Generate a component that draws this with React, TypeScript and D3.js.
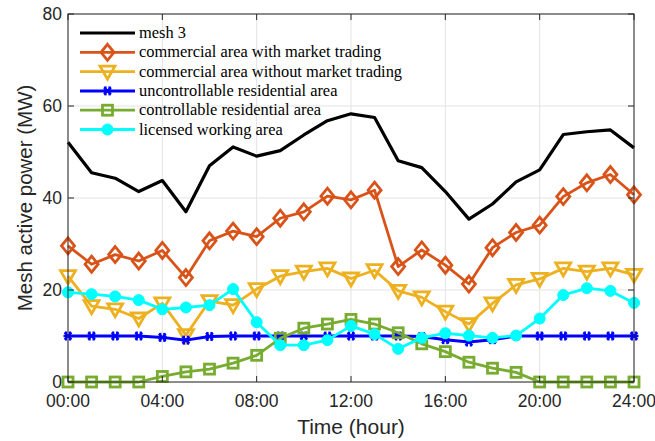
import React from "react";
import * as d3 from "d3";

const hours = d3.range(0, 25);
const mesh3 = [52.1, 45.5, 44.3, 41.4, 43.8, 37.0, 47.0, 51.1, 49.1, 50.3, 53.7, 56.8, 58.3, 57.5, 48.1, 46.6, 41.4, 35.4, 38.7, 43.5, 46.1, 53.8, 54.4, 54.8, 50.9];
const withMarket = [29.6, 25.6, 27.7, 26.3, 28.6, 22.7, 30.7, 32.8, 31.6, 35.6, 37.0, 40.4, 39.6, 41.7, 25.1, 28.7, 25.4, 21.3, 29.2, 32.5, 34.1, 40.3, 43.3, 45.1, 40.7];
const withoutMarket = [23.0, 16.5, 15.8, 13.8, 17.1, 10.2, 17.6, 16.7, 20.2, 23.0, 24.0, 24.7, 22.5, 24.3, 19.8, 18.4, 15.3, 12.6, 17.1, 21.1, 22.4, 24.7, 24.0, 24.7, 23.3];
const uncontrollable = [10, 10, 10, 10, 9.7, 9.1, 9.9, 10, 10, 10, 10, 10, 10, 10, 10, 9.9, 9.2, 8.7, 9.2, 10, 10, 10, 10, 10, 10];
const controllable = [0, 0, 0, 0, 1.2, 2.2, 2.8, 4.1, 5.8, 9.5, 11.7, 12.6, 13.6, 12.6, 10.7, 8.3, 6.6, 4.3, 3.0, 2.1, 0, 0, 0, 0, 0];
const licensed = [19.5, 19.1, 18.6, 17.8, 15.8, 16.2, 16.7, 20.2, 13.0, 8.0, 8.0, 9.1, 12.2, 10.4, 7.2, 9.6, 10.6, 10.1, 9.6, 10.1, 13.8, 18.9, 20.4, 19.8, 17.2];

const seriesNames = ["mesh 3", "commercial area with market trading", "commercial area without market trading", "uncontrollable residential area", "controllable residential area", "licensed working area"];
const xTicks = [0, 4, 8, 12, 16, 20, 24];
const xTickLabels = ["00:00", "04:00", "08:00", "12:00", "16:00", "20:00", "24:00"];
const yTicks = [0, 20, 40, 60, 80];

type Marker = "none" | "diamond" | "triangle" | "star" | "square" | "circle";
const series: { name: string; values: number[]; color: string; marker: Marker; width: number }[] = [
  { name: seriesNames[0], values: mesh3, color: "#000000", marker: "none", width: 3.2 },
  { name: seriesNames[1], values: withMarket, color: "#D95319", marker: "diamond", width: 2.8 },
  { name: seriesNames[2], values: withoutMarket, color: "#EDB120", marker: "triangle", width: 2.8 },
  { name: seriesNames[3], values: uncontrollable, color: "#0000FF", marker: "star", width: 3 },
  { name: seriesNames[4], values: controllable, color: "#77AC30", marker: "square", width: 2.8 },
  { name: seriesNames[5], values: licensed, color: "#00FFFF", marker: "circle", width: 2.8 },
];

const W = 655, H = 441;
const m = { left: 68, top: 14, right: 634, bottom: 382 };

function MarkerShape({ type, color, x, y }: { type: Marker; color: string; x: number; y: number }) {
  const sw = 2.8;
  switch (type) {
    case "diamond":
      return <path d={`M${x},${y - 8} L${x + 6.5},${y} L${x},${y + 8} L${x - 6.5},${y} Z`} fill="none" stroke={color} strokeWidth={sw} />;
    case "triangle":
      return <path d={`M${x - 7.5},${y - 5.5} L${x + 7.5},${y - 5.5} L${x},${y + 7.5} Z`} fill="none" stroke={color} strokeWidth={sw} />;
    case "square":
      return <rect x={x - 5} y={y - 5} width={10} height={10} fill="none" stroke={color} strokeWidth={sw} />;
    case "circle":
      return <circle cx={x} cy={y} r={5.5} fill={color} stroke={color} strokeWidth={1} />;
    case "star":
      return (
        <g stroke={color} strokeWidth={2.2}>
          <line x1={x - 4.5} y1={y} x2={x + 4.5} y2={y} />
          <line x1={x - 2} y1={y - 4.5} x2={x - 2} y2={y + 4.5} />
          <line x1={x + 2} y1={y - 4.5} x2={x + 2} y2={y + 4.5} />
          <line x1={x - 3.5} y1={y - 3.5} x2={x + 3.5} y2={y + 3.5} />
          <line x1={x - 3.5} y1={y + 3.5} x2={x + 3.5} y2={y - 3.5} />
        </g>
      );
    default:
      return null;
  }
}

export default function App() {
  const x = d3.scaleLinear().domain([0, 24]).range([m.left, m.right]);
  const y = d3.scaleLinear().domain([0, 80]).range([m.bottom, m.top]);
  const line = d3.line<number>().x((_, i) => x(hours[i])).y((d) => y(d));
  const tickFont = "'Liberation Sans', Arial, sans-serif";
  const legendX0 = 80, legendX1 = 135, legendY0 = 33, legendDy = 19.3;

  return (
    <svg width={W} height={H} style={{ position: "absolute", left: 0, top: 0 }}>
      <rect x={0} y={0} width={W} height={H} fill="#fff" />
      {xTicks.map((t) => (
        <line key={"gx" + t} x1={x(t)} x2={x(t)} y1={m.top} y2={m.bottom} stroke="#e3e3e3" strokeWidth={1} />
      ))}
      {yTicks.map((t) => (
        <line key={"gy" + t} x1={m.left} x2={m.right} y1={y(t)} y2={y(t)} stroke="#e3e3e3" strokeWidth={1} />
      ))}
      {series.map((s) => (
        <g key={s.name}>
          <path d={line(s.values) || ""} fill="none" stroke={s.color} strokeWidth={s.width} strokeLinejoin="round" />
          {s.values.map((v, i) => (
            <MarkerShape key={i} type={s.marker} color={s.color} x={x(hours[i])} y={y(v)} />
          ))}
        </g>
      ))}
      <rect x={m.left} y={m.top} width={m.right - m.left} height={m.bottom - m.top} fill="none" stroke="#262626" strokeWidth={1} />
      {xTicks.map((t) => (
        <g key={"tx" + t}>
          <line x1={x(t)} x2={x(t)} y1={m.bottom} y2={m.bottom - 6} stroke="#262626" />
          <line x1={x(t)} x2={x(t)} y1={m.top} y2={m.top + 6} stroke="#262626" />
        </g>
      ))}
      {yTicks.map((t) => (
        <g key={"ty" + t}>
          <line x1={m.left} x2={m.left + 6} y1={y(t)} y2={y(t)} stroke="#262626" />
          <line x1={m.right} x2={m.right - 6} y1={y(t)} y2={y(t)} stroke="#262626" />
        </g>
      ))}
      {xTicks.map((t, i) => (
        <text key={"lx" + t} x={x(t)} y={m.bottom + 25} textAnchor="middle" fontFamily={tickFont} fontSize={17.5} fill="#262626">
          {xTickLabels[i]}
        </text>
      ))}
      {yTicks.map((t) => (
        <text key={"ly" + t} x={m.left - 6} y={y(t) + 6} textAnchor="end" fontFamily={tickFont} fontSize={17.5} fill="#262626">
          {t}
        </text>
      ))}
      <text x={(m.left + m.right) / 2} y={434} textAnchor="middle" fontFamily={tickFont} fontSize={21} fill="#262626">
        Time (hour)
      </text>
      <text transform={`translate(32,${(m.top + m.bottom) / 2}) rotate(-90)`} textAnchor="middle" fontFamily={tickFont} fontSize={20.5} fill="#262626">
        Mesh active power (MW)
      </text>
      {series.map((s, i) => {
        const ly = legendY0 + i * legendDy;
        return (
          <g key={"lg" + s.name}>
            <line x1={legendX0} x2={legendX1} y1={ly} y2={ly} stroke={s.color} strokeWidth={s.width} />
            <MarkerShape type={s.marker} color={s.color} x={(legendX0 + legendX1) / 2} y={ly} />
            <text x={139} y={ly + 5} fontFamily="'Liberation Serif', 'Times New Roman', serif" fontSize={16.4} fill="#000">
              {s.name}
            </text>
          </g>
        );
      })}
    </svg>
  );
}
